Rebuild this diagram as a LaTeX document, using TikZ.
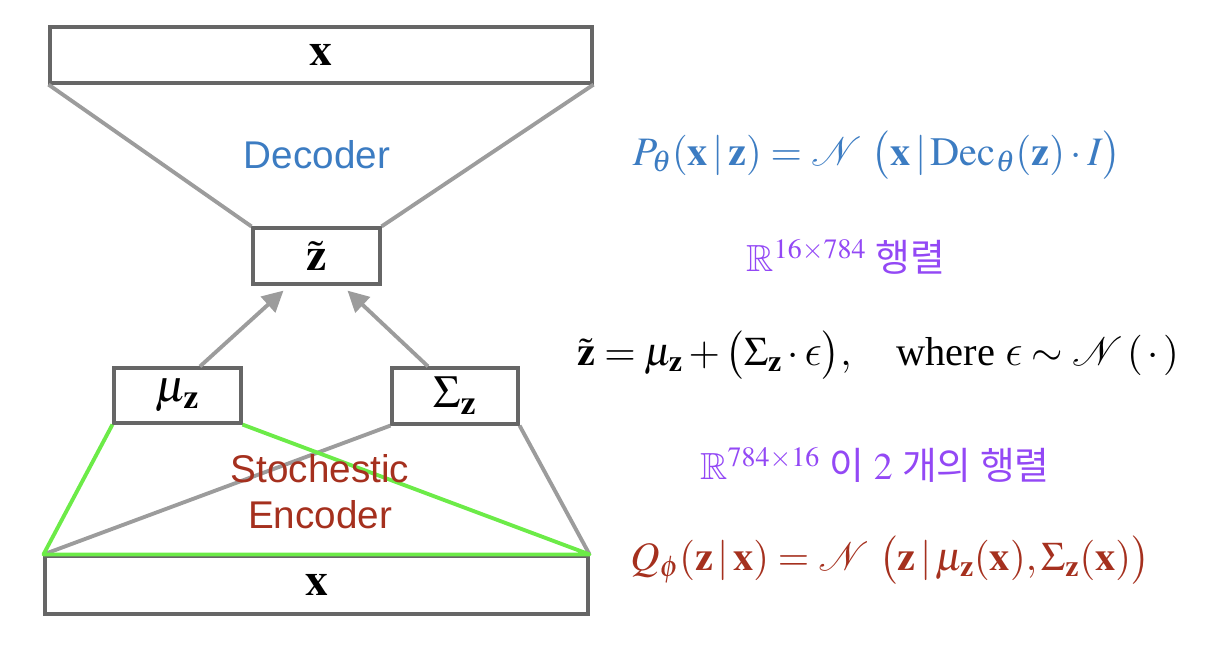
\documentclass[tikz,border=0pt]{standalone}
\usepackage{amsmath,amssymb}
\usepackage{mathptmx}
\usepackage[no-math]{fontspec}
\setmainfont{Liberation Serif}
\setsansfont{Liberation Sans}
\newfontfamily\kr{Noto Sans CJK KR}
\DeclareSymbolFont{cmletters}{OML}{cmm}{m}{it}
\DeclareMathSymbol{\lunateps}{\mathord}{cmletters}{"0F}
\usetikzlibrary{arrows.meta, positioning, calc}
\definecolor{cblue}{HTML}{3C7CC2}
\definecolor{cred}{HTML}{A5301E}
\definecolor{cpurple}{HTML}{9348F5}
\definecolor{cgreen}{HTML}{6CEB48}
\definecolor{cgrey}{HTML}{666666}
\definecolor{clight}{HTML}{9C9C9C}
\tikzset{
  box/.style={draw=cgrey, line width=1.8pt, fill=white, inner sep=0pt, font=\fontsize{26}{30}\selectfont},
  link/.style={draw=clight, line width=2.2pt},
  arrow/.style={link, -{Triangle[length=0.42cm, width=0.42cm]}},
  enc/.style={draw=cgreen, line width=2.2pt, line join=round},
  label/.style={font=\sffamily\fontsize{22}{26}\selectfont, align=center},
  eq/.style={font=\fontsize{23}{28}\selectfont},
  dim/.style={font=\fontsize{21.5}{26}\selectfont, text=cpurple},
}
\begin{document}
\begin{tikzpicture}[x=0.02cm, y=-0.02cm]
  \useasboundingbox (0,0) rectangle (1216,650);

  % network
  \node[box, minimum width=10.84cm, minimum height=1.12cm] (xtop) at (321,55) {$\mathbf{x}$};
  \node[box, minimum width=2.54cm, minimum height=1.12cm] (zt) at (316.5,256) {$\tilde{\mathbf{z}}$};
  \node[box, minimum width=2.54cm, minimum height=1.10cm] (mu) at (177.5,395.5) {$\mu_{\mathbf{z}}$};
  \node[box, minimum width=2.52cm, minimum height=1.12cm] (sig) at (455,396) {$\Sigma_{\mathbf{z}}$};
  \node[box, minimum width=10.86cm, minimum height=1.16cm] (xbot) at (316.5,585) {$\mathbf{x}$};

  % decoder
  \draw[link] (xtop.south west) -- (zt.north west);
  \draw[link] (xtop.south east) -- (zt.north east);
  \node[label, text=cblue] (dec) at (317,155) {Decoder};

  % sampling
  \draw[arrow] ([xshift=0.45cm]mu.north) -- ([xshift=-0.66cm, yshift=-0.1cm]zt.south);
  \draw[arrow] ([xshift=-0.54cm]sig.north) -- ([xshift=0.62cm, yshift=-0.1cm]zt.south);

  % encoder
  \draw[link] (sig.south west) -- (xbot.north west);
  \draw[link] (sig.south east) -- (xbot.north east);
  \draw[enc] (mu.south west) -- (xbot.north west) -- (xbot.north east) -- (mu.south east);
  \node[label, text=cred] (encl) at (320,492) {Stochestic\\Encoder};

  % equations
  \node[eq, text=cblue] (peq) at (877,155)
    {$P_\theta(\mathbf{x}\,|\,\mathbf{z}) = \mathcal{N}\ \bigl(\mathbf{x}\,|\,\mathrm{Dec}_\theta(\mathbf{z})\cdot I\bigr)$};
  \node[dim] (wdec) at (846,257) {$\mathbb{R}^{16\times784}$ {\kr 행렬}};
  \node[eq] (zeq) at (878,355)
    {$\tilde{\mathbf{z}} = \mu_{\mathbf{z}} + \bigl(\Sigma_{\mathbf{z}}\cdot\lunateps\bigr),\quad \text{where } \lunateps\sim\mathcal{N}\,(\,\cdot\,)$};
  \node[dim] (wenc) at (875,465) {$\mathbb{R}^{784\times16}$ {\kr 이} $2$ {\kr 개의 행렬}};
  \node[eq, text=cred] (qeq) at (890,560)
    {$Q_\phi(\mathbf{z}\,|\,\mathbf{x}) = \mathcal{N}\ \bigl(\mathbf{z}\,|\,\mu_{\mathbf{z}}(\mathbf{x}),\Sigma_{\mathbf{z}}(\mathbf{x})\bigr)$};
\end{tikzpicture}
\end{document}
